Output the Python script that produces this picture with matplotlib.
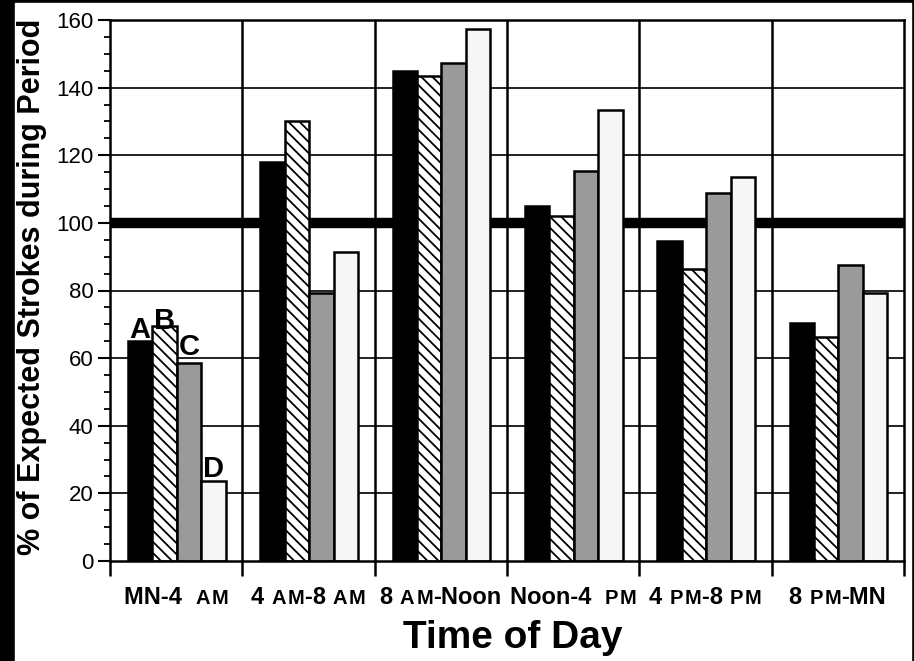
import matplotlib
matplotlib.use('Agg')
import matplotlib.pyplot as plt
import numpy as np
from matplotlib.patches import Rectangle
from matplotlib.offsetbox import TextArea, HPacker, AnnotationBbox
from matplotlib.ticker import MultipleLocator

plt.rcParams['font.family'] = ['Liberation Sans', 'DejaVu Sans']
plt.rcParams['hatch.linewidth'] = 1.3

# % of expected strokes per 4-hour period, series A-D
periods = [
    [("MN-4  ", 'big'), ("AM", 'small')],
    [("4 ", 'big'), ("AM", 'small'), ("-8 ", 'big'), ("AM", 'small')],
    [("8 ", 'big'), ("AM", 'small'), ("-Noon", 'big')],
    [("Noon-4  ", 'big'), ("PM", 'small')],
    [("4 ", 'big'), ("PM", 'small'), ("-8 ", 'big'), ("PM", 'small')],
    [("8 ", 'big'), ("PM", 'small'), ("-MN", 'big')],
]
series_names = ['A', 'B', 'C', 'D']
series_a = [65, 118, 145, 105, 94.5, 70.5]
series_b = [69.5, 130, 143.5, 102, 86.5, 66.3]
series_c = [58.6, 79.3, 147.3, 115.4, 108.9, 87.6]
series_d = [23.7, 91.4, 157.4, 133.4, 113.6, 79.4]
all_series = [series_a, series_b, series_c, series_d]

fills = ['black', 'white', '#9a9a9a', '#f6f6f6']
hatches = [None, '\\\\\\', None, None]
letter_dy = [2.5, -2, 5.5, 3]

fig = plt.figure(figsize=(9.14, 6.61), dpi=100, facecolor='black')
fig.patches.append(Rectangle((15 / 914, 0), 896 / 914, 658 / 661,
                             transform=fig.transFigure, color='white', zorder=-1))

ax = fig.add_axes([110 / 914, 1 - 561 / 661, 794 / 914, 541 / 661])
ax.set_facecolor('white')
ax.set_xlim(0, 6)
ax.set_ylim(0, 160)

# grid lines behind the bars
for yv in range(20, 160, 20):
    if yv == 100:
        continue
    ax.axhline(yv, color='#222222', lw=1.4, zorder=1)
ax.axhline(100, color='black', lw=7.5, zorder=1)
for xv in range(1, 6):
    ax.axvline(xv, color='black', lw=1.8, zorder=1)

width = 0.185
x = np.arange(len(periods)) + 0.5
for k, vals in enumerate(all_series):
    xs = x + (k - 1.5) * width + 0.005
    ax.bar(xs, vals, width=width, color=fills[k], edgecolor='black',
           linewidth=1.8, hatch=hatches[k], zorder=3)
    ax.annotate(series_names[k], (xs[0], vals[0]), xytext=(0, letter_dy[k]),
                textcoords='offset points', ha='center', va='baseline',
                fontsize=21, fontweight='bold', zorder=5)

for s in ax.spines.values():
    s.set_linewidth(1.8)
    s.set_zorder(4)

ax.yaxis.set_major_locator(MultipleLocator(20))
ax.yaxis.set_minor_locator(MultipleLocator(5))
ax.tick_params(axis='y', which='major', direction='out', length=9, width=1.5,
               labelsize=16, pad=3)
ax.tick_params(axis='y', which='minor', direction='out', length=4, width=1.3)
ax.set_xticks(range(0, 7))
ax.set_xticklabels([])
ax.tick_params(axis='x', which='major', direction='out', length=11, width=1.8)

# period labels with spaced small caps for AM / PM
for i, parts in enumerate(periods):
    kids = []
    for txt, kind in parts:
        if kind == 'big':
            kids.append(TextArea(txt, textprops=dict(fontsize=17, fontweight='bold')))
        else:
            letters = [TextArea(c, textprops=dict(fontsize=14.5, fontweight='bold'))
                       for c in txt]
            kids.append(HPacker(children=letters, align='baseline', pad=0, sep=1.5))
    pack = HPacker(children=kids, align='baseline', pad=0, sep=0)
    ab = AnnotationBbox(pack, (x[i], 0), xycoords=('data', 'axes fraction'),
                        xybox=(0, -26), boxcoords='offset points',
                        frameon=False, box_alignment=(0.5, 0.5))
    ax.add_artist(ab)

fig.text(32 / 914, 1 - 287 / 661, '% of Expected Strokes during Period',
         rotation=90, ha='center', va='center', fontsize=22, fontweight='bold')
fig.text(513 / 914, 1 - 648 / 661, 'Time of Day', ha='center', va='baseline',
         fontsize=28, fontweight='bold')

fig.savefig('out.png', dpi=100, facecolor=fig.get_facecolor())
